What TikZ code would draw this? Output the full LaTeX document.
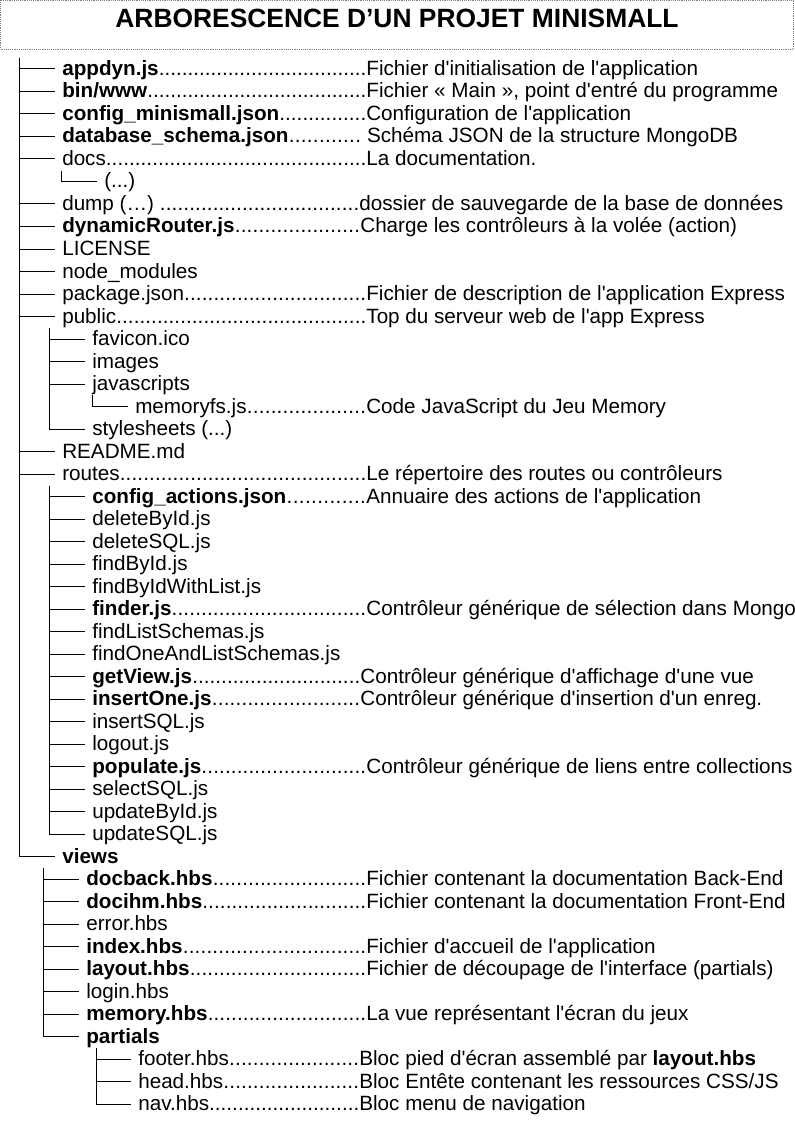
\documentclass[tikz,border=0pt]{standalone}
\usepackage{fontspec}
\newfontfamily\arialfont{Liberation Sans}
\usepackage{tikz}
\newlength{\px}
\setlength{\px}{0.75pt}
% name then dots up to the description column
\newcommand{\dotto}[2]{\makebox[#1\px][l]{#2\xleaders\hbox{.}\hfill}}

\begin{document}
\begin{tikzpicture}[x=0.75pt, y=-0.75pt,
  font=\arialfont\fontsize{15.5}{18}\selectfont,
  entry/.style={anchor=base west, inner xsep=5.25pt, inner ysep=0pt, text height=11.5pt, text depth=1.7pt},
  branch/.style={draw=black, line width=0.7pt}]

\useasboundingbox (0,0) rectangle (794,1123);

% title
\draw [gray, densely dotted, line width=0.4pt] (0.5,0.5) rectangle (793.5,49);
\node [anchor=base, font=\arialfont\bfseries\fontsize{19.8}{24}\selectfont] (title) at (397,28) {ARBORESCENCE D’UN PROJET MINISMALL};

% top level
\node [entry] (appdyn) at (55,75.5) {\dotto{304}{\textbf{appdyn.js}}Fichier d'initialisation de l'application};
\node [entry] (binwww) at (55,98) {\dotto{304}{\textbf{bin/www}}Fichier « Main », point d'entré du programme};
\node [entry] (cfgmini) at (55,120.5) {\dotto{304}{\textbf{config\_minismall.json}}Configuration de l'application};
\node [entry] (dbschema) at (55,143) {\dotto{299}{\textbf{database\_schema.json}} Schéma JSON de la structure MongoDB};
\node [entry] (docs) at (55,165.5) {\dotto{304}{docs}La documentation.};
\node [entry] (docsetc) at (97,188) {(...)};
\node [entry] (dump) at (55,210.5) {\dotto{297}{dump (…) }dossier de sauvegarde de la base de données};
\node [entry] (dynrouter) at (55,233) {\dotto{298}{\textbf{dynamicRouter.js}}Charge les contrôleurs à la volée (action)};
\node [entry] (license) at (55,255.5) {LICENSE};
\node [entry] (nodemod) at (55,278) {node\_modules};
\node [entry] (pkgjson) at (55,300.5) {\dotto{304}{package.json}Fichier de description de l'application Express};
\node [entry] (public) at (55,323) {\dotto{304}{public}Top du serveur web de l'app Express};

% public
\node [entry] (favicon) at (85,345.5) {favicon.ico};
\node [entry] (images) at (85,368) {images};
\node [entry] (jscripts) at (85,390.5) {javascripts};
\node [entry] (memoryfs) at (128,413) {\dotto{231}{memoryfs.js}Code JavaScript du Jeu Memory};
\node [entry] (styles) at (85,435.5) {stylesheets (...)};

\node [entry] (readme) at (55,458) {README.md};
\node [entry] (routes) at (55,480.5) {\dotto{304}{routes}Le répertoire des routes ou contrôleurs};

% routes
\node [entry] (cfgactions) at (85,503) {\dotto{274}{\textbf{config\_actions.json}}Annuaire des actions de l'application};
\node [entry] (delbyid) at (85,525.5) {deleteById.js};
\node [entry] (delsql) at (85,548) {deleteSQL.js};
\node [entry] (findbyid) at (85,570.5) {findById.js};
\node [entry] (findbyidwl) at (85,593) {findByIdWithList.js};
\node [entry] (finder) at (85,615.5) {\dotto{274}{\textbf{finder.js}}Contrôleur générique de sélection dans Mongo};
\node [entry] (findls) at (85,638) {findListSchemas.js};
\node [entry] (findoals) at (85,660.5) {findOneAndListSchemas.js};
\node [entry] (getview) at (85,683) {\dotto{268}{\textbf{getView.js}}Contrôleur générique d'affichage d'une vue};
\node [entry] (insertone) at (85,705.5) {\dotto{268}{\textbf{insertOne.js}}Contrôleur générique d'insertion d'un enreg.};
\node [entry] (insertsql) at (85,728) {insertSQL.js};
\node [entry] (logout) at (85,750.5) {logout.js};
\node [entry] (populate) at (85,773) {\dotto{274}{\textbf{populate.js}}Contrôleur générique de liens entre collections};
\node [entry] (selectsql) at (85,795.5) {selectSQL.js};
\node [entry] (updbyid) at (85,818) {updateById.js};
\node [entry] (updsql) at (85,840.5) {updateSQL.js};

\node [entry] (views) at (55,863) {\textbf{views}};

% views
\node [entry] (docback) at (79,885.5) {\dotto{280}{\textbf{docback.hbs}}Fichier contenant la documentation Back-End};
\node [entry] (docihm) at (79,908) {\dotto{280}{\textbf{docihm.hbs}}Fichier contenant la documentation Front-End};
\node [entry] (error) at (79,930.5) {error.hbs};
\node [entry] (index) at (79,953) {\dotto{280}{\textbf{index.hbs}}Fichier d'accueil de l'application};
\node [entry] (layout) at (79,975.5) {\dotto{280}{\textbf{layout.hbs}}Fichier de découpage de l'interface (partials)};
\node [entry] (login) at (79,998) {login.hbs};
\node [entry] (memory) at (79,1020.5) {\dotto{280}{\textbf{memory.hbs}}La vue représentant l'écran du jeux};
\node [entry] (partials) at (79,1043) {\textbf{partials}};

% partials
\node [entry] (footer) at (131,1065.5) {\dotto{221}{footer.hbs}Bloc pied d'écran assemblé par \textbf{layout.hbs}};
\node [entry] (head) at (131,1088) {\dotto{221}{head.hbs}Bloc Entête contenant les ressources CSS/JS};
\node [entry] (nav) at (131,1110.5) {\dotto{221}{nav.hbs}Bloc menu de navigation};

% tree lines
\coordinate (rootline) at (19,58);
\coordinate (docsline) at (61,171);
\coordinate (publine) at (49,328);
\coordinate (jsline) at (92,395);
\coordinate (routesline) at (49,486);
\coordinate (viewsline) at (43,868);
\coordinate (partline) at (96,1048);

\draw [branch] (rootline) |- (appdyn);
\draw [branch] (rootline) |- (binwww);
\draw [branch] (rootline) |- (cfgmini);
\draw [branch] (rootline) |- (dbschema);
\draw [branch] (rootline) |- (docs);
\draw [branch] (rootline) |- (dump);
\draw [branch] (rootline) |- (dynrouter);
\draw [branch] (rootline) |- (license);
\draw [branch] (rootline) |- (nodemod);
\draw [branch] (rootline) |- (pkgjson);
\draw [branch] (rootline) |- (public);
\draw [branch] (rootline) |- (readme);
\draw [branch] (rootline) |- (routes);
\draw [branch] (rootline) |- (views);

\draw [branch] (docsline) |- (docsetc);

\draw [branch] (publine) |- (favicon);
\draw [branch] (publine) |- (images);
\draw [branch] (publine) |- (jscripts);
\draw [branch] (publine) |- (styles);
\draw [branch] (jsline) |- (memoryfs);

\draw [branch] (routesline) |- (cfgactions);
\draw [branch] (routesline) |- (delbyid);
\draw [branch] (routesline) |- (delsql);
\draw [branch] (routesline) |- (findbyid);
\draw [branch] (routesline) |- (findbyidwl);
\draw [branch] (routesline) |- (finder);
\draw [branch] (routesline) |- (findls);
\draw [branch] (routesline) |- (findoals);
\draw [branch] (routesline) |- (getview);
\draw [branch] (routesline) |- (insertone);
\draw [branch] (routesline) |- (insertsql);
\draw [branch] (routesline) |- (logout);
\draw [branch] (routesline) |- (populate);
\draw [branch] (routesline) |- (selectsql);
\draw [branch] (routesline) |- (updbyid);
\draw [branch] (routesline) |- (updsql);

\draw [branch] (viewsline) |- (docback);
\draw [branch] (viewsline) |- (docihm);
\draw [branch] (viewsline) |- (error);
\draw [branch] (viewsline) |- (index);
\draw [branch] (viewsline) |- (layout);
\draw [branch] (viewsline) |- (login);
\draw [branch] (viewsline) |- (memory);
\draw [branch] (viewsline) |- (partials);

\draw [branch] (partline) |- (footer);
\draw [branch] (partline) |- (head);
\draw [branch] (partline) |- (nav);

\end{tikzpicture}
\end{document}
